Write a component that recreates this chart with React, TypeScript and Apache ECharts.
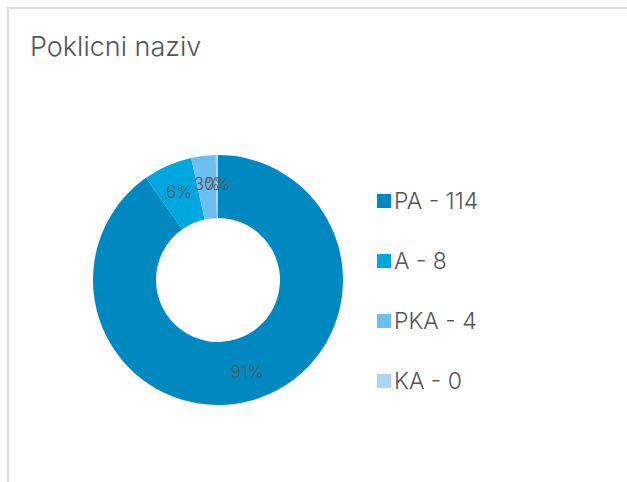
import React, { useEffect, useRef } from "react";
import * as echarts from "echarts";

const categories = ["PA", "A", "PKA", "KA"];
const values = [114, 8, 4, 0];
const colors = ["#0089c0", "#00a6df", "#6cbfef", "#acd5f5"];
const title = "Poklicni naziv";

export default function App() {
  const ref = useRef<HTMLDivElement>(null);
  useEffect(() => {
    document.body.style.margin = "0";
    document.body.style.overflow = "hidden";
    const chart = echarts.init(ref.current!, null, { renderer: "svg" });
    const data = categories.map((c, i) => ({ name: c, value: values[i] }));
    chart.setOption({
      animation: false,
      color: colors,
      title: {
        text: title,
        left: 25,
        top: 28,
        textStyle: { fontFamily: "Inter", fontSize: 27, fontWeight: 300, color: "#555" },
      },
      legend: {
        orient: "vertical",
        left: 372,
        top: 184,
        itemWidth: 14,
        itemHeight: 14,
        itemGap: 36,
        icon: "rect",
        formatter: (name: string) => {
          const i = categories.indexOf(name);
          return name + " - " + values[i];
        },
        textStyle: { fontFamily: "Inter", fontSize: 23, fontWeight: 300, color: "#555", padding: [0, 0, 0, -2], lineHeight: 24 },
      },
      series: [
        {
          type: "pie",
          center: [218, 280],
          radius: [62, 125],
          percentPrecision: 0,
          avoidLabelOverlap: false,
          minShowLabelAngle: -1,
          minAngle: 1,
          labelLayout: { hideOverlap: false },
          label: {
            show: true,
            position: "inside",
            formatter: "{d}%",
            fontFamily: "Inter",
            fontSize: 17,
            fontWeight: 300,
            color: "#555",
          },
          labelLine: { show: false },
          emphasis: { disabled: true },
          data,
        },
      ],
    });
    return () => chart.dispose();
  }, []);
  return (
    <div style={{ position: "relative", width: 627, height: 482, overflow: "hidden", background: "#fff" }}>
      <div
        style={{
          position: "absolute",
          left: 7,
          top: 7,
          width: 700,
          height: 600,
          borderTop: "2px solid #dddddd",
          borderLeft: "2px solid #dddddd",
        }}
      />
      <div ref={ref} style={{ position: "absolute", left: 0, top: 0, width: 627, height: 482 }} />
    </div>
  );
}
